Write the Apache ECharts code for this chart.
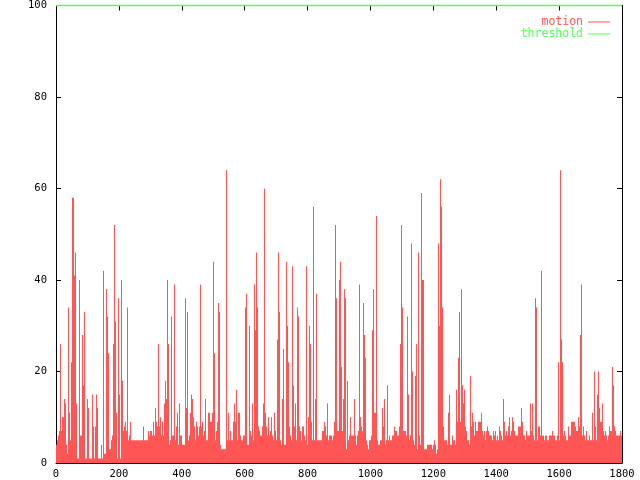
<!DOCTYPE html>
<html><head><meta charset="utf-8">
<script src="https://cdn.jsdelivr.net/npm/echarts@6.0.0/dist/echarts.min.js"></script>
<style>html,body{margin:0;padding:0;background:#fff}#c{width:640px;height:480px}</style>
</head><body><div id="c"></div>
<script>
const xTicks = [0, 200, 400, 600, 800, 1000, 1200, 1400, 1600, 1800];
const yTicks = [0, 20, 40, 60, 80, 100];
const seriesNames = ['motion', 'threshold'];
const thresholdX = [0, 1800];
const thresholdY = [100, 100];
// motion values, one sample per ~3.18 frames
const motion = [
4,
5,6,7,26,7,10,10,14,13,4,
2,34,11,5,22,58,58,41,46,13,
1,1,40,6,6,28,17,33,1,1,
14,12,1,1,1,15,8,1,8,15,
12,1,1,1,4,1,42,2,2,38,
32,24,3,3,5,6,26,52,31,11,
1,36,15,1,40,18,7,8,9,7,
34,5,6,9,5,5,5,5,5,5,
5,5,5,5,5,5,8,5,5,5,
5,7,6,
7,7,6,9,6,12,9,8,26,8,
10,6,9,6,13,18,14,40,26,4,
5,32,6,6,39,5,8,11,4,13,
6,6,4,4,4,36,12,33,5,6,
11,15,14,10,8,5,9,8,6,8,
39,8,9,6,7,14,5,5,11,11,
9,9,11,44,24,5,7,9,35,33,
4,3,3,3,3,3,64,5,11,5,
7,5,5,9,13,9,16,5,11,11,
6,5,5,6,6,
34,37,4,4,30,7,6,13,5,39,
29,46,34,8,7,6,6,8,13,60,
11,8,6,10,6,7,10,6,5,11,
7,5,27,46,33,5,4,14,25,4,
4,44,30,22,8,6,5,43,17,8,
13,5,34,32,8,7,5,8,8,6,
5,43,4,10,30,26,9,5,56,5,
14,37,5,5,5,5,5,7,7,9,
8,6,13,5,6,6,6,5,6,9,
52,36,7,7,40,
44,21,7,14,38,36,3,18,5,6,
10,6,6,6,14,6,4,6,7,39,
10,8,7,35,28,23,5,4,3,5,
5,6,29,38,11,11,54,5,4,4,
5,5,12,8,14,4,5,17,5,6,
5,5,6,6,8,7,7,6,6,8,
26,52,34,7,7,7,6,32,15,5,
6,48,20,5,4,19,26,3,46,6,
4,59,40,40,3,3,3,4,4,4,
4,4,3,4,5,
4,2,3,48,30,62,56,34,8,5,
5,5,4,11,15,4,4,6,5,5,
4,16,9,23,33,9,38,17,13,16,
8,7,5,5,4,19,8,11,9,6,
9,7,7,9,9,9,11,7,6,7,
5,7,8,7,6,6,6,5,7,6,
7,5,6,5,8,7,6,5,14,9,
6,7,6,8,10,6,7,10,9,7,
6,6,6,8,8,8,12,9,6,6,
5,7,6,6,6,
13,7,13,6,5,36,34,5,8,8,
6,42,6,6,5,6,6,5,5,6,
6,6,7,6,6,5,5,6,22,5,
64,27,22,6,7,6,5,5,8,6,
6,9,9,9,9,8,7,7,10,8,
28,39,6,8,6,5,7,5,5,6,
5,5,11,5,20,8,5,15,20,12,
9,9,13,7,6,7,6,5,6,8,
7,7,21,17,8,7,6,6,6,6,
7,6
];

const RED = '#ff5555';
const GREEN = '#55ff55';
const FONT = 'DejaVu Sans Mono';
const xMin = xTicks[0], xMax = xTicks[xTicks.length - 1], xInt = xTicks[1] - xTicks[0];
const yMin = yTicks[0], yMax = yTicks[yTicks.length - 1], yInt = yTicks[1] - yTicks[0];
const step = (xMax - xMin) / motion.length;
const motionPts = motion.map((v, i) => [xMin + (i + 0.5) * step, v]);
const thrPts = thresholdX.map((x, i) => [x, thresholdY[i]]);

function axisBase(extra) {
  return Object.assign({
    type: 'value',
    axisLine: { show: true, onZero: false, lineStyle: { color: '#000', width: 1 } },
    axisTick: { show: true, inside: true, length: 5, lineStyle: { color: '#000', width: 1 } },
    splitLine: { show: false },
    axisLabel: { show: false }
  }, extra);
}
const labelStyle = {
  show: true, color: '#000', fontFamily: FONT, fontSize: 10.5,
  showMinLabel: true, showMaxLabel: true,
  formatter: v => String(v)
};

const chart = echarts.init(document.getElementById('c'), null, { renderer: 'canvas' });
chart.setOption({
  animation: false,
  backgroundColor: '#fff',
  grid: { left: 56, right: 18, top: 5.5, bottom: 17, containLabel: false },
  xAxis: [
    axisBase({ position: 'bottom', min: xMin, max: xMax, interval: xInt, axisLabel: Object.assign({ margin: 6 }, labelStyle) }),
    axisBase({ position: 'top', min: xMin, max: xMax, interval: xInt, axisLine: { show: false, onZero: false } })
  ],
  yAxis: [
    axisBase({ position: 'left', min: yMin, max: yMax, interval: yInt, axisLabel: Object.assign({ margin: 9 }, labelStyle) }),
    axisBase({ position: 'right', min: yMin, max: yMax, interval: yInt })
  ],
  legend: {
    orient: 'vertical', right: 30, top: 16, align: 'right',
    itemWidth: 22, itemHeight: 1, itemGap: 0, icon: 'rect', padding: 0,
    selectedMode: false,
    textStyle: { fontFamily: FONT, fontSize: 11.5, lineHeight: 11 },
    data: [
      { name: seriesNames[0], textStyle: { color: RED }, itemStyle: { color: RED } },
      { name: seriesNames[1], textStyle: { color: GREEN }, itemStyle: { color: GREEN } }
    ]
  },
  series: [
    {
      name: seriesNames[0], type: 'bar', data: motionPts,
      xAxisIndex: 0, yAxisIndex: 0, barWidth: 1, barGap: '0%',
      itemStyle: { color: RED, borderWidth: 0 }, silent: true, z: 2
    },
    {
      name: seriesNames[1], type: 'line', data: thrPts,
      xAxisIndex: 0, yAxisIndex: 0, symbol: 'none', clip: false, z: 10, zlevel: 1,
      lineStyle: { color: GREEN, width: 1.5 }, itemStyle: { color: GREEN }, silent: true
    }
  ]
});
</script>
</body></html>
